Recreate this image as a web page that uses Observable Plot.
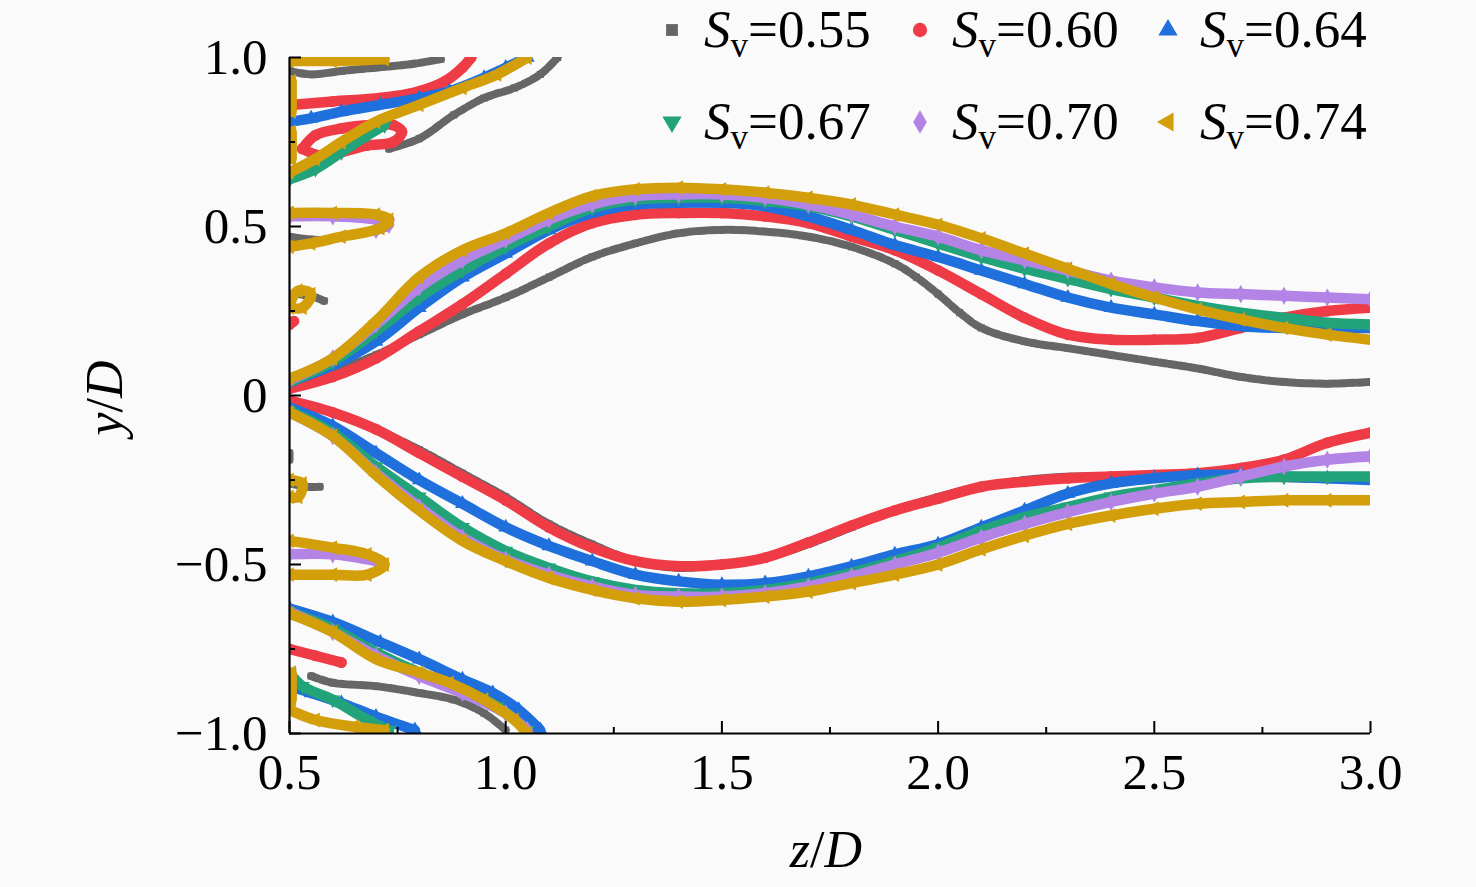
<!DOCTYPE html>
<html><head><meta charset="utf-8">
<script src="https://cdn.jsdelivr.net/npm/d3@7"></script>
<script src="https://cdn.jsdelivr.net/npm/@observablehq/plot@0.6"></script>
<style>
html,body{margin:0;padding:0;background:#fafafa;}
#wrap{position:relative;width:1476px;height:887px;}
#wrap svg{position:absolute;left:0;top:0;}
</style></head><body><div id="wrap"></div>
<script>
// ---------- categories ----------
const seriesNames = ["0.55", "0.60", "0.64", "0.67", "0.70", "0.74"];
const seriesColors = ["#666666", "#ee3b45", "#1f6fdc", "#23a37a", "#b383e6", "#d29f0b"];

// ---------- tick labels ----------
const xMajor = [0.5, 1.0, 1.5, 2.0, 2.5, 3.0];
const xMinor = [0.75, 1.25, 1.75, 2.25, 2.75];
const yMajor = [-1.0, -0.5, 0, 0.5, 1.0];
const yMinor = [-0.75, -0.25, 0.25, 0.75];

// ---------- S_v = 0.55 ----------
const sv055Upper = [[0.5,0.03],[0.55,0.05],[0.6,0.07],[0.7,0.12],[0.8,0.18],[0.9,0.24],[1.0,0.29],[1.1,0.35],[1.2,0.41],[1.3,0.45],[1.4,0.48],[1.5,0.49],[1.6,0.485],[1.7,0.47],[1.8,0.44],[1.9,0.39],[1.95,0.35],[2.0,0.30],[2.05,0.245],[2.1,0.20],[2.2,0.16],[2.3,0.14],[2.4,0.12],[2.5,0.10],[2.6,0.08],[2.7,0.055],[2.8,0.04],[2.9,0.035],[3.0,0.04]];
const sv055Lower = [[0.5,-0.02],[0.6,-0.05],[0.7,-0.10],[0.8,-0.16],[0.9,-0.23],[1.0,-0.30],[1.1,-0.38],[1.2,-0.44],[1.3,-0.49],[1.4,-0.51],[1.5,-0.50],[1.6,-0.48],[1.7,-0.44],[1.8,-0.39],[1.9,-0.34],[2.0,-0.30],[2.1,-0.27],[2.2,-0.25],[2.3,-0.24],[2.4,-0.24],[2.5,-0.24],[2.6,-0.24],[2.8,-0.245],[3.0,-0.25]];
const sv055Wall = [
  [[0.5,0.96],[0.55,0.95],[0.62,0.96],[0.7,0.97],[0.78,0.98],[0.85,0.995]],
  [[0.73,0.73],[0.8,0.76],[0.88,0.83],[0.95,0.88],[1.02,0.91],[1.08,0.95],[1.12,1.0]],
  [[0.52,0.30],[0.56,0.29],[0.58,0.28]],
  [[0.5,0.47],[0.58,0.46],[0.66,0.48]],
  [[0.5,-0.17],[0.5,-0.19]],
  [[0.5,-0.26],[0.54,-0.27],[0.57,-0.27]],
  [[0.55,-0.83],[0.6,-0.85],[0.7,-0.86],[0.8,-0.88],[0.88,-0.90],[0.95,-0.94],[1.0,-0.99]]
];

// ---------- S_v = 0.60 ----------
const sv060Upper = [[0.5,0.02],[0.6,0.055],[0.7,0.11],[0.8,0.19],[0.9,0.27],[1.0,0.36],[1.1,0.45],[1.2,0.51],[1.3,0.535],[1.4,0.54],[1.5,0.54],[1.6,0.53],[1.7,0.51],[1.8,0.47],[1.9,0.43],[2.0,0.37],[2.1,0.30],[2.2,0.23],[2.3,0.18],[2.4,0.165],[2.5,0.165],[2.6,0.17],[2.7,0.20],[2.8,0.23],[2.9,0.25],[3.0,0.26]];
const sv060Lower = [[0.5,-0.015],[0.6,-0.05],[0.7,-0.10],[0.8,-0.17],[0.9,-0.24],[1.0,-0.31],[1.1,-0.39],[1.2,-0.45],[1.3,-0.49],[1.4,-0.505],[1.5,-0.50],[1.6,-0.48],[1.7,-0.435],[1.8,-0.385],[1.9,-0.34],[2.0,-0.305],[2.1,-0.27],[2.2,-0.255],[2.3,-0.245],[2.4,-0.24],[2.5,-0.235],[2.6,-0.23],[2.7,-0.215],[2.8,-0.19],[2.9,-0.14],[3.0,-0.11]];
const sv060Wall = [
  [[0.51,0.86],[0.6,0.87],[0.71,0.88],[0.8,0.90],[0.86,0.93],[0.9,0.97],[0.92,1.0]],
  [[0.53,0.73],[0.56,0.77],[0.62,0.79],[0.69,0.80],[0.74,0.80],[0.76,0.78],[0.74,0.75],[0.68,0.74],[0.62,0.72],[0.57,0.71],[0.53,0.73]],
  [[0.69,0.525],[0.73,0.52],[0.72,0.50]],
  [[0.5,0.21],[0.51,0.22]],
  [[0.5,-0.75],[0.56,-0.77],[0.62,-0.79]],
  [[1.04,-0.97],[1.08,-1.0]]
];

// ---------- S_v = 0.64 ----------
const sv064Upper = [[0.5,0.04],[0.6,0.09],[0.7,0.16],[0.8,0.26],[0.9,0.35],[1.0,0.42],[1.1,0.49],[1.2,0.54],[1.3,0.565],[1.4,0.57],[1.5,0.57],[1.6,0.56],[1.7,0.53],[1.8,0.49],[1.9,0.445],[2.0,0.41],[2.1,0.37],[2.2,0.33],[2.3,0.29],[2.4,0.26],[2.5,0.24],[2.6,0.22],[2.7,0.205],[2.8,0.20],[2.9,0.20],[3.0,0.20]];
const sv064Lower = [[0.5,-0.035],[0.6,-0.09],[0.7,-0.17],[0.8,-0.25],[0.9,-0.32],[1.0,-0.39],[1.1,-0.445],[1.2,-0.49],[1.3,-0.53],[1.4,-0.55],[1.5,-0.56],[1.6,-0.555],[1.7,-0.535],[1.8,-0.505],[1.9,-0.47],[2.0,-0.44],[2.1,-0.39],[2.2,-0.34],[2.3,-0.29],[2.4,-0.26],[2.5,-0.245],[2.6,-0.235],[2.7,-0.235],[2.8,-0.24],[2.9,-0.245],[3.0,-0.25]];
const sv064Wall = [
  [[0.5,0.81],[0.55,0.82],[0.62,0.84],[0.71,0.86],[0.8,0.88],[0.87,0.90],[0.95,0.94],[1.0,0.97],[1.05,1.0]],
  [[0.5,0.99],[0.52,1.0]],
  [[0.5,-0.63],[0.6,-0.67],[0.71,-0.73],[0.8,-0.78],[0.9,-0.84],[0.97,-0.88],[1.03,-0.93],[1.08,-0.99]],
  [[0.5,-0.86],[0.55,-0.88],[0.62,-0.91],[0.7,-0.95],[0.79,-0.99]]
];

// ---------- S_v = 0.67 ----------
const sv067Upper = [[0.5,0.04],[0.6,0.10],[0.7,0.19],[0.8,0.29],[0.9,0.37],[1.0,0.44],[1.1,0.50],[1.2,0.555],[1.3,0.58],[1.4,0.585],[1.5,0.585],[1.6,0.575],[1.7,0.56],[1.8,0.53],[1.9,0.49],[2.0,0.45],[2.1,0.41],[2.2,0.375],[2.3,0.345],[2.4,0.315],[2.5,0.29],[2.6,0.265],[2.7,0.245],[2.8,0.23],[2.9,0.215],[3.0,0.21]];
const sv067Lower = [[0.5,-0.045],[0.6,-0.11],[0.7,-0.21],[0.8,-0.30],[0.9,-0.39],[1.0,-0.46],[1.1,-0.51],[1.2,-0.55],[1.3,-0.575],[1.4,-0.585],[1.5,-0.585],[1.6,-0.575],[1.7,-0.555],[1.8,-0.525],[1.9,-0.49],[2.0,-0.45],[2.1,-0.40],[2.2,-0.36],[2.3,-0.33],[2.4,-0.30],[2.5,-0.28],[2.6,-0.26],[2.7,-0.245],[2.8,-0.24],[2.9,-0.24],[3.0,-0.24]];
const sv067Wall = [
  [[0.5,0.64],[0.56,0.67],[0.62,0.72],[0.68,0.77],[0.72,0.80]],
  [[0.5,-0.64],[0.6,-0.69],[0.7,-0.76],[0.8,-0.82],[0.9,-0.87],[0.98,-0.92],[1.05,-0.99]],
  [[0.5,-0.82],[0.53,-0.86],[0.6,-0.90],[0.68,-0.96],[0.73,-0.99]]
];

// ---------- S_v = 0.70 ----------
const sv070Upper = [[0.5,0.045],[0.6,0.11],[0.7,0.21],[0.8,0.32],[0.9,0.40],[1.0,0.46],[1.1,0.52],[1.2,0.565],[1.3,0.59],[1.4,0.595],[1.5,0.595],[1.6,0.585],[1.7,0.565],[1.8,0.535],[1.9,0.50],[2.0,0.47],[2.1,0.43],[2.2,0.40],[2.3,0.37],[2.4,0.34],[2.5,0.32],[2.6,0.305],[2.7,0.30],[2.8,0.295],[2.9,0.29],[3.0,0.285]];
const sv070Lower = [[0.5,-0.05],[0.6,-0.12],[0.7,-0.23],[0.8,-0.33],[0.9,-0.42],[1.0,-0.485],[1.1,-0.53],[1.2,-0.565],[1.3,-0.59],[1.4,-0.595],[1.5,-0.595],[1.6,-0.585],[1.7,-0.565],[1.8,-0.535],[1.9,-0.50],[2.0,-0.465],[2.1,-0.42],[2.2,-0.38],[2.3,-0.345],[2.4,-0.315],[2.5,-0.29],[2.6,-0.27],[2.7,-0.24],[2.8,-0.21],[2.9,-0.19],[3.0,-0.18]];
const sv070Wall = [
  [[0.5,0.53],[0.6,0.53],[0.7,0.52],[0.73,0.505],[0.7,0.49]],
  [[0.5,-0.64],[0.6,-0.70],[0.7,-0.77],[0.8,-0.83],[0.9,-0.88],[1.0,-0.94],[1.05,-0.99]],
  [[0.5,-0.47],[0.6,-0.47],[0.7,-0.49]]
];

// ---------- S_v = 0.74 ----------
const sv074Upper = [[0.5,0.05],[0.6,0.11],[0.7,0.22],[0.8,0.35],[0.9,0.43],[1.0,0.48],[1.1,0.54],[1.2,0.59],[1.3,0.61],[1.4,0.615],[1.5,0.61],[1.6,0.60],[1.7,0.585],[1.8,0.565],[1.9,0.535],[2.0,0.505],[2.1,0.465],[2.2,0.42],[2.3,0.375],[2.4,0.33],[2.5,0.29],[2.6,0.255],[2.7,0.225],[2.8,0.20],[2.9,0.18],[3.0,0.165]];
const sv074Lower = [[0.5,-0.05],[0.6,-0.12],[0.7,-0.235],[0.8,-0.34],[0.9,-0.43],[1.0,-0.49],[1.1,-0.54],[1.2,-0.575],[1.3,-0.60],[1.4,-0.61],[1.5,-0.605],[1.6,-0.595],[1.7,-0.58],[1.8,-0.555],[1.9,-0.53],[2.0,-0.50],[2.1,-0.455],[2.2,-0.415],[2.3,-0.38],[2.4,-0.355],[2.5,-0.335],[2.6,-0.32],[2.7,-0.315],[2.8,-0.31],[2.9,-0.31],[3.0,-0.31]];
const sv074Wall = [
  [[0.5,0.99],[0.6,0.99],[0.72,0.995]],
  [[0.5,0.66],[0.56,0.70],[0.62,0.75],[0.7,0.81],[0.8,0.86],[0.9,0.91],[0.98,0.95],[1.05,1.0]],
  [[0.505,0.93],[0.505,0.84]],
  [[0.505,0.78],[0.505,0.70]],
  [[0.5,0.54],[0.6,0.54],[0.7,0.535],[0.73,0.52],[0.71,0.495],[0.62,0.47],[0.55,0.45],[0.5,0.44]],
  [[0.5,0.27],[0.52,0.31],[0.55,0.30],[0.53,0.26],[0.5,0.26]],
  [[0.5,-0.25],[0.53,-0.26],[0.52,-0.30],[0.5,-0.30]],
  [[0.5,-0.43],[0.6,-0.45],[0.68,-0.47],[0.72,-0.50],[0.68,-0.53],[0.6,-0.53],[0.5,-0.53]],
  [[0.5,-0.645],[0.6,-0.70],[0.7,-0.78],[0.8,-0.82],[0.87,-0.85],[0.95,-0.90],[1.02,-0.96],[1.05,-1.0]],
  [[0.5,-0.93],[0.56,-0.96],[0.65,-0.98],[0.72,-0.99]],
  [[0.505,-0.82],[0.505,-0.90]]
];

// ---------- build table ----------
const seriesData = [
  [sv055Upper, sv055Lower, sv055Wall],
  [sv060Upper, sv060Lower, sv060Wall],
  [sv064Upper, sv064Lower, sv064Wall],
  [sv067Upper, sv067Lower, sv067Wall],
  [sv070Upper, sv070Lower, sv070Wall],
  [sv074Upper, sv074Lower, sv074Wall]
];
function rowsOf(i) {
  const [up, lo, wall] = seriesData[i];
  const segs = [up, lo, ...wall];
  const out = [];
  segs.forEach((seg, k) => seg.forEach(([z, y]) => out.push({s: seriesNames[i], seg: k, z, y})));
  return out;
}

// symbols
function mapped(sym, fn) {
  return {draw(ctx, size) {
    const p = {
      moveTo: (x, y) => { const [a, b] = fn(x, y); ctx.moveTo(a, b); },
      lineTo: (x, y) => { const [a, b] = fn(x, y); ctx.lineTo(a, b); },
      closePath: () => ctx.closePath(),
      arc: (...a) => ctx.arc(...a)
    };
    sym.draw(p, size);
  }};
}
const triDown = mapped(d3.symbolTriangle, (x, y) => [x, -y]);
const triLeft = mapped(d3.symbolTriangle, (x, y) => [y, x]);
const seriesSymbols = [d3.symbolSquare, d3.symbolCircle, d3.symbolTriangle, triDown, d3.symbolDiamond, triLeft];

const W = 1476, H = 887, mL = 289, mR = 106, mT = 57, mB = 154;
const plotW = W - mL - mR, plotH = H - mT - mB;

const marks = [];
seriesNames.forEach((name, i) => {
  const rows = rowsOf(i);
  marks.push(Plot.line(rows, {
    x: "z", y: "y", z: "seg", stroke: seriesColors[i],
    strokeWidth: i === 0 ? 8 : 10.5,
    strokeDasharray: i === 0 ? "7,3" : null,
    curve: "catmull-rom", strokeLinejoin: "round", clip: true
  }));
  marks.push(Plot.dot(rows, {
    x: "z", y: "y", symbol: seriesSymbols[i], r: i === 0 ? 4 : 5.5,
    fill: seriesColors[i], stroke: "none", clip: true
  }));
});

const fmtY = d => d === 0 ? "0" : (d < 0 ? "\u2212" : "") + Math.abs(d).toFixed(1);

const chart = Plot.plot({
  width: W, height: H,
  marginLeft: mL, marginRight: mR, marginTop: mT, marginBottom: mB,
  x: {domain: [0.5, 3.0]},
  y: {domain: [-1, 1]},
  style: {fontFamily: "'Liberation Serif', 'DejaVu Serif', serif", fontSize: "51px", color: "#000", background: "transparent"},
  marks: [
    ...marks,
    Plot.ruleX([0.5], {strokeWidth: 2.2, stroke: "#000"}),
    Plot.ruleY([-1], {strokeWidth: 2.2, stroke: "#000"}),
    Plot.tickX(xMajor, {x: d => d, insetTop: plotH - 12, strokeWidth: 2, stroke: "#000"}),
    Plot.tickX(xMinor, {x: d => d, insetTop: plotH - 6, strokeWidth: 2, stroke: "#000"}),
    Plot.tickY(yMajor, {y: d => d, insetRight: plotW - 12, strokeWidth: 2, stroke: "#000"}),
    Plot.tickY(yMinor, {y: d => d, insetRight: plotW - 6, strokeWidth: 2, stroke: "#000"}),
    Plot.axisX(xMajor, {tickSize: 0, tickPadding: 19, tickFormat: d => d.toFixed(1), label: null, fontSize: 51}),
    Plot.axisY(yMajor, {tickSize: 0, tickPadding: 22, tickFormat: fmtY, label: null, fontSize: 51})
  ]
});
const wrap = document.getElementById("wrap");
wrap.appendChild(chart);

// ---------- overlay: legend & axis titles ----------
const ov = d3.select(wrap).append("svg")
  .attr("width", W).attr("height", H)
  .style("font-family", "'Liberation Serif', 'DejaVu Serif', serif")
  .style("pointer-events", "none");

seriesNames.forEach((name, i) => {
  const col = i % 3, row = Math.floor(i / 3);
  const cx = 672 + col * 248, cy = 30 + row * 92;
  ov.append("path")
    .attr("transform", `translate(${cx},${cy})`)
    .attr("d", d3.symbol(seriesSymbols[i], i === 0 ? 140 : 160)())
    .attr("fill", seriesColors[i]);
  const t = ov.append("text").attr("x", cx + 32).attr("y", cy + 17).attr("font-size", 53).attr("fill", "#000");
  t.append("tspan").attr("font-style", "italic").text("S");
  t.append("tspan").attr("font-size", 35).attr("dy", 10).text("v");
  t.append("tspan").attr("dy", -10).text("=" + name);
});

const yt = ov.append("text").attr("transform", "translate(122,398) rotate(-90)")
  .attr("text-anchor", "middle").attr("font-size", 52).attr("fill", "#000");
yt.append("tspan").attr("font-style", "italic").text("y");
yt.append("tspan").text("/");
yt.append("tspan").attr("font-style", "italic").text("D");

const xt = ov.append("text").attr("x", 826).attr("y", 867)
  .attr("text-anchor", "middle").attr("font-size", 52).attr("fill", "#000");
xt.append("tspan").attr("font-style", "italic").text("z");
xt.append("tspan").text("/");
xt.append("tspan").attr("font-style", "italic").text("D");
</script>
</body></html>
